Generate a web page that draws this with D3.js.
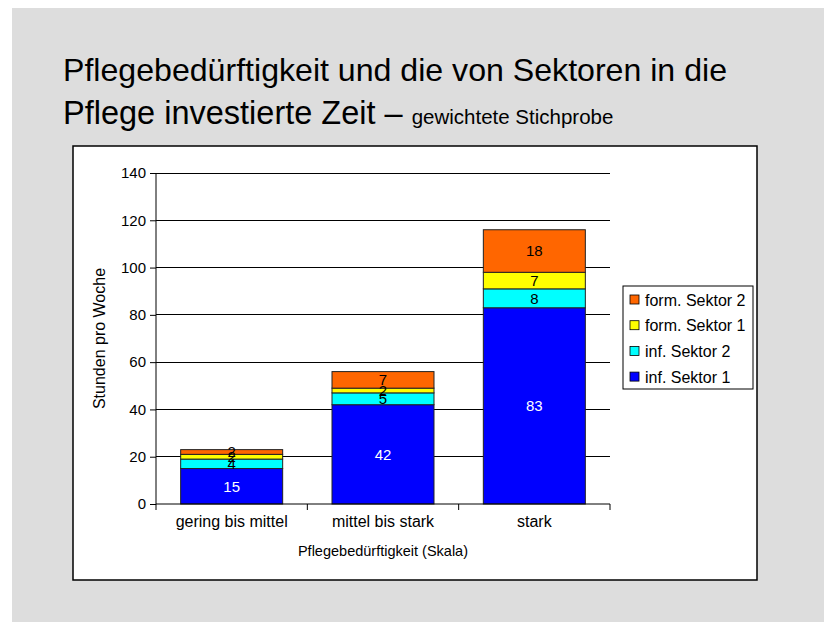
<!DOCTYPE html>
<html>
<head>
<meta charset="utf-8">
<script src="https://cdn.jsdelivr.net/npm/d3@7"></script>
<style>
  body { margin: 0; background: #fff; }
  svg { display: block; font-family: "Liberation Sans", Arial, sans-serif; }
</style>
</head>
<body>
<div id="chart"></div>
<script>
const categories = ['gering bis mittel', 'mittel bis stark', 'stark']
const seriesNames = ['inf. Sektor 1', 'inf. Sektor 2', 'form. Sektor 1', 'form. Sektor 2']
const infSektor1 = [15, 42, 83]
const infSektor2 = [4, 5, 8]
const formSektor1 = [2, 2, 7]
const formSektor2 = [2, 7, 18]
const yTicks = [0, 20, 40, 60, 80, 100, 120, 140]
const colors = ['#0000ff', '#00ffff', '#ffff00', '#ff6600']
const labelColors = ['#fff', '#000', '#000', '#000']

const width = 824, height = 622
const svg = d3.select('#chart').append('svg')
  .attr('width', width)
  .attr('height', height)

// slide background
svg.append('rect')
  .attr('x', 12).attr('y', 8)
  .attr('width', width - 12).attr('height', height - 8)
  .attr('fill', '#dddddd')

// title
const title = svg.append('g').attr('fill', '#000')
title.append('text')
  .attr('x', 63).attr('y', 81)
  .attr('font-size', 31.5)
  .attr('textLength', 664)
  .attr('lengthAdjust', 'spacingAndGlyphs')
  .text('Pflegebedürftigkeit und die von Sektoren in die')
const t2 = title.append('text')
  .attr('x', 63).attr('y', 124)
  .attr('font-size', 32.5)
t2.append('tspan').text('Pflege investierte Zeit – ')
t2.append('tspan').attr('font-size', 20.5).text('gewichtete Stichprobe')

// chart frame
svg.append('rect')
  .attr('x', 73).attr('y', 146)
  .attr('width', 684).attr('height', 434)
  .attr('fill', '#fff')
  .attr('stroke', '#000')
  .attr('stroke-width', 1.5)

const plot = {left: 156, right: 610, top: 173, bottom: 504}

const rows = categories.map((c, i) => ({
  cat: c,
  'inf. Sektor 1': infSektor1[i],
  'inf. Sektor 2': infSektor2[i],
  'form. Sektor 1': formSektor1[i],
  'form. Sektor 2': formSektor2[i]
}))
const stacked = d3.stack().keys(seriesNames)(rows)

const xScale = d3.scaleBand()
  .domain(categories)
  .range([plot.left, plot.right])
  .paddingInner(0.326)
  .paddingOuter(0.163)
const yScale = d3.scaleLinear()
  .domain([0, 140])
  .range([plot.bottom, plot.top])

// gridlines
svg.append('g')
  .selectAll('line')
  .data(yTicks.filter(d => d > 0))
  .join('line')
  .attr('x1', plot.left).attr('x2', plot.right)
  .attr('y1', d => yScale(d)).attr('y2', d => yScale(d))
  .attr('stroke', '#000')
  .attr('stroke-width', 1)
  .attr('shape-rendering', 'crispEdges')

// bars
const layers = svg.append('g')
  .selectAll('g')
  .data(stacked)
  .join('g')
  .attr('fill', (d, i) => colors[i])
layers.selectAll('rect')
  .data(d => d)
  .join('rect')
  .attr('x', d => xScale(d.data.cat))
  .attr('y', d => yScale(d[1]))
  .attr('width', xScale.bandwidth())
  .attr('height', d => yScale(d[0]) - yScale(d[1]))
  .attr('stroke', '#222')
  .attr('stroke-width', 1)

// value labels
stacked.forEach((layer, i) => {
  svg.append('g')
    .selectAll('text')
    .data(layer)
    .join('text')
    .attr('x', d => xScale(d.data.cat) + xScale.bandwidth() / 2)
    .attr('y', d => yScale((d[0] + d[1]) / 2))
    .attr('dy', '0.35em')
    .attr('text-anchor', 'middle')
    .attr('font-size', 15)
    .attr('fill', labelColors[i])
    .text(d => d[1] - d[0])
})

// axes
const yAxis = d3.axisLeft(yScale)
  .tickValues(yTicks)
  .tickSize(6)
  .tickPadding(4)
const yG = svg.append('g')
  .attr('transform', `translate(${plot.left},0)`)
  .call(yAxis)
yG.select('.domain').attr('stroke', '#000').attr('d', `M0,${plot.top}V${plot.bottom}`)
yG.selectAll('text').attr('font-size', 15).attr('fill', '#000').attr('font-family', null)

const xBounds = d3.scaleLinear().domain([0, 3]).range([plot.left, plot.right])
const xG = svg.append('g')
xG.append('line')
  .attr('x1', plot.left).attr('x2', plot.right)
  .attr('y1', plot.bottom).attr('y2', plot.bottom)
  .attr('stroke', '#000')
xG.selectAll('line.tick')
  .data([0, 1, 2, 3])
  .join('line')
  .attr('class', 'tick')
  .attr('x1', d => xBounds(d)).attr('x2', d => xBounds(d))
  .attr('y1', plot.bottom).attr('y2', plot.bottom + 6)
  .attr('stroke', '#000')
xG.selectAll('text')
  .data(categories)
  .join('text')
  .attr('x', d => xScale(d) + xScale.bandwidth() / 2)
  .attr('y', 527)
  .attr('text-anchor', 'middle')
  .attr('font-size', 16)
  .text(d => d)

// axis titles
svg.append('text')
  .attr('x', (plot.left + plot.right) / 2)
  .attr('y', 556)
  .attr('text-anchor', 'middle')
  .attr('font-size', 14.5)
  .text('Pflegebedürftigkeit (Skala)')
svg.append('text')
  .attr('transform', `translate(105,${(plot.top + plot.bottom) / 2}) rotate(-90)`)
  .attr('text-anchor', 'middle')
  .attr('font-size', 16)
  .text('Stunden pro Woche')

// legend
const legend = svg.append('g').attr('transform', 'translate(623,286)')
legend.append('rect')
  .attr('width', 130).attr('height', 103)
  .attr('fill', '#fff')
  .attr('stroke', '#000')
const legendItems = legend.selectAll('g')
  .data(seriesNames.slice().reverse())
  .join('g')
  .attr('transform', (d, i) => `translate(7,${14 + i * 25.7})`)
legendItems.append('rect')
  .attr('x', 0).attr('y', -5)
  .attr('width', 9).attr('height', 9)
  .attr('fill', d => colors[seriesNames.indexOf(d)])
  .attr('stroke', '#000')
  .attr('stroke-width', 0.8)
legendItems.append('text')
  .attr('x', 15).attr('y', 0)
  .attr('dy', '0.35em')
  .attr('font-size', 16)
  .text(d => d)
</script>
</body>
</html>
